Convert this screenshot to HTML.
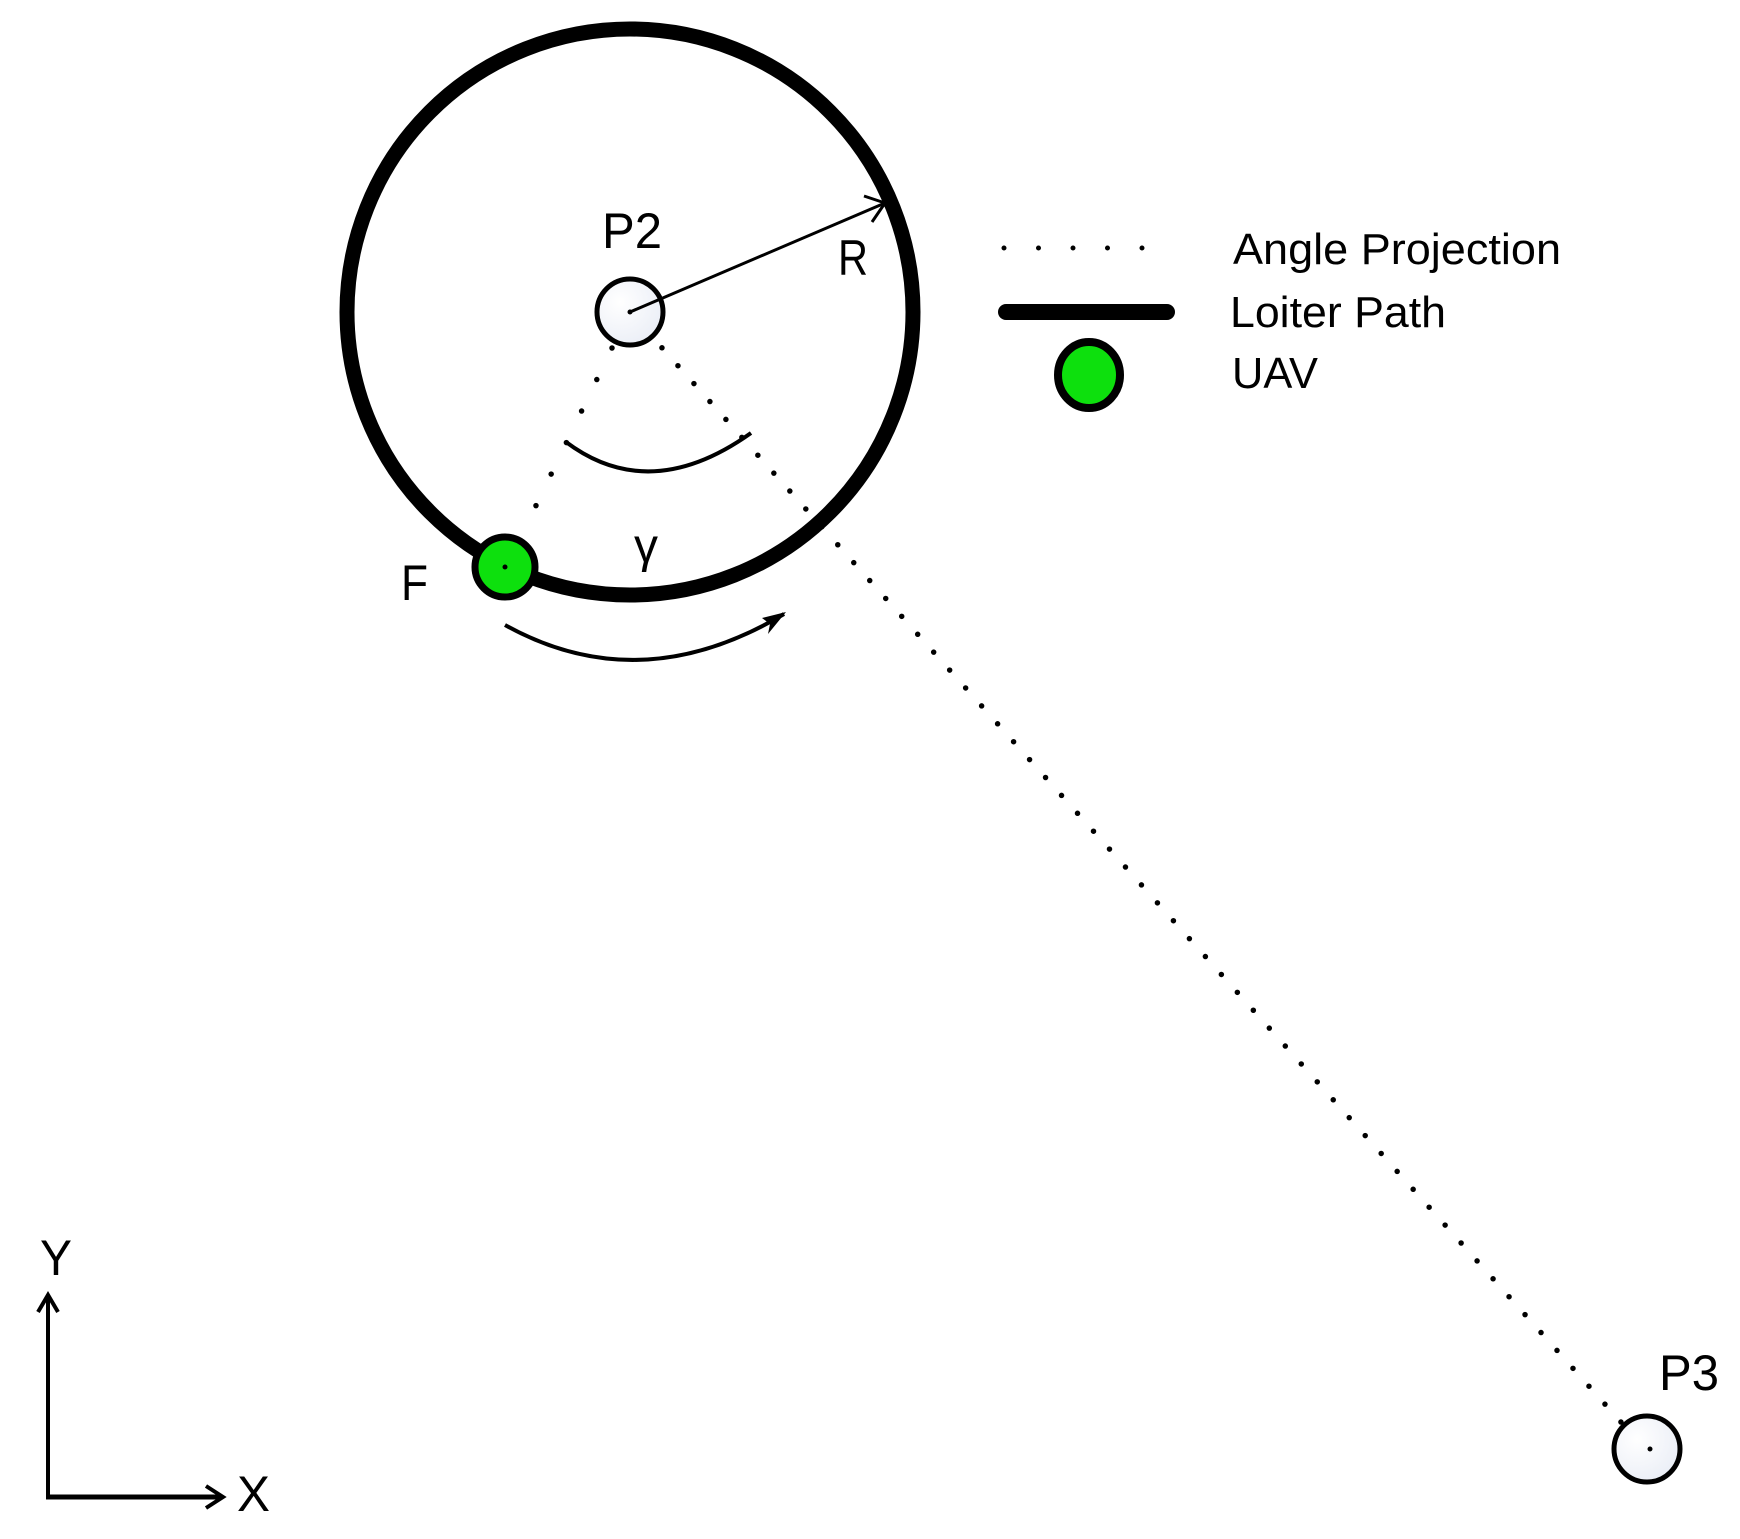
<!DOCTYPE html>
<html><head><style>html,body{margin:0;padding:0;background:#fff}svg{display:block}</style></head>
<body>
<svg width="1740" height="1539" viewBox="0 0 1740 1539" xmlns="http://www.w3.org/2000/svg" font-family="'Liberation Sans', sans-serif">
<defs>
<radialGradient id="g" cx="0.35" cy="0.35" r="0.8"><stop offset="0" stop-color="#ffffff"/><stop offset="1" stop-color="#e8ecf5"/></radialGradient>
</defs>
<circle cx="630" cy="312" r="283" fill="none" stroke="#000" stroke-width="15"/>
<line x1="630" y1="312" x2="1645" y2="1449" stroke="#000" stroke-width="5.5" stroke-linecap="round" stroke-dasharray="0 24"/>
<line x1="612" y1="348" x2="530" y2="518" stroke="#000" stroke-width="5.5" stroke-linecap="round" stroke-dasharray="0 35"/>
<circle cx="630" cy="312" r="33" fill="url(#g)" stroke="#000" stroke-width="5"/>
<circle cx="630" cy="312" r="2.5" fill="#000"/>
<line x1="630" y1="312" x2="885" y2="203" stroke="#000" stroke-width="3"/>
<polyline points="864,196 885,203 872,222" fill="none" stroke="#000" stroke-width="3"/>
<path d="M566,442 Q650,505 751,433" fill="none" stroke="#000" stroke-width="4"/>
<path d="M505,625 Q640,700 784,614" fill="none" stroke="#000" stroke-width="4"/>
<polygon points="786,612 762,618 770,624 768,634" fill="#000"/>
<circle cx="505" cy="567" r="30" fill="#0de00d" stroke="#000" stroke-width="7"/>
<circle cx="505" cy="567" r="2.5" fill="#000"/>
<circle cx="1647" cy="1449" r="33" fill="url(#g)" stroke="#000" stroke-width="5"/>
<circle cx="1650" cy="1449" r="2.5" fill="#000"/>
<text x="602" y="248" font-size="50" textLength="60" lengthAdjust="spacingAndGlyphs">P2</text>
<text x="838" y="275" font-size="50" textLength="30" lengthAdjust="spacingAndGlyphs">R</text>
<text x="401" y="600" font-size="50" textLength="27" lengthAdjust="spacingAndGlyphs">F</text>
<text x="634" y="562" font-size="48">γ</text>
<text x="1659" y="1390" font-size="50" textLength="60" lengthAdjust="spacingAndGlyphs">P3</text>
<line x1="48" y1="1297" x2="48" y2="1499" stroke="#000" stroke-width="4"/>
<polyline points="38,1312 48,1295 58,1312" fill="none" stroke="#000" stroke-width="4"/>
<line x1="46" y1="1497" x2="222" y2="1497" stroke="#000" stroke-width="5"/>
<polyline points="206,1486 223,1497 206,1508" fill="none" stroke="#000" stroke-width="4"/>
<text x="40" y="1275" font-size="50" textLength="32" lengthAdjust="spacingAndGlyphs">Y</text>
<text x="237" y="1511" font-size="50" textLength="33" lengthAdjust="spacingAndGlyphs">X</text>
<line x1="1004" y1="248" x2="1144" y2="248" stroke="#000" stroke-width="5" stroke-linecap="round" stroke-dasharray="0 34.5"/>
<line x1="1006" y1="312" x2="1167" y2="312" stroke="#000" stroke-width="16" stroke-linecap="round"/>
<ellipse cx="1089" cy="375" rx="31" ry="33" fill="#0de00d" stroke="#000" stroke-width="8"/>
<text x="1233" y="264" font-size="44" textLength="328" lengthAdjust="spacingAndGlyphs">Angle Projection</text>
<text x="1230" y="327" font-size="44" textLength="216" lengthAdjust="spacingAndGlyphs">Loiter Path</text>
<text x="1232" y="388" font-size="44" textLength="86" lengthAdjust="spacingAndGlyphs">UAV</text>
</svg>
</body></html>
